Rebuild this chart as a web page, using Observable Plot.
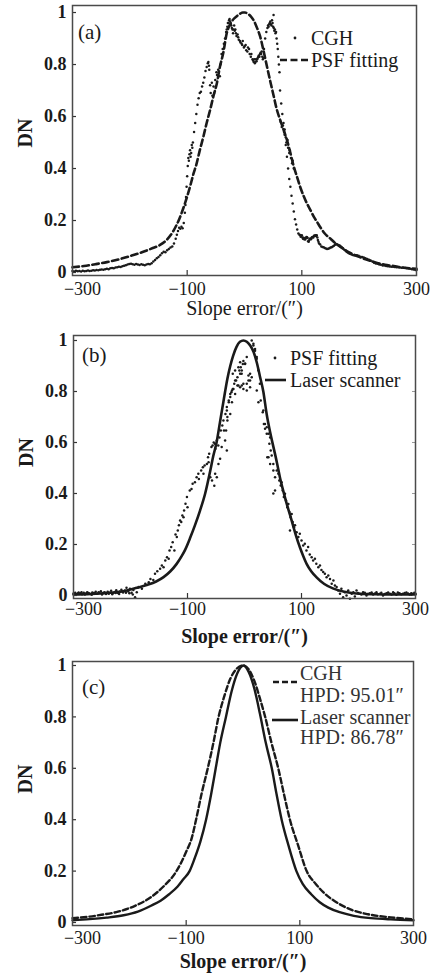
<!DOCTYPE html>
<html><head><meta charset="utf-8">
<script src="https://cdn.jsdelivr.net/npm/d3@7"></script>
<script src="https://cdn.jsdelivr.net/npm/@observablehq/plot@0.6"></script>
<style>
body{margin:0;background:#fff;}
#chart{width:433px;}
#chart svg{display:block;font-family:'Liberation Serif','Times New Roman',serif;}
</style></head><body><div id="chart"></div>
<script>
// ---------- axes ----------
const xTicks = [-300, -100, 100, 300];
const xTickLabels = ["−300", "−100", "100", "300"];
const yTicks = [0, 0.2, 0.4, 0.6, 0.8, 1];
const yTickLabels = ["0", "0.2", "0.4", "0.6", "0.8", "1"];
const xLabel = "Slope error/(″)";
const yLabel = "DN";

// ---------- panel (a) ----------
const psfFitA = [[-300,0.02],[-280,0.025],[-260,0.032],[-240,0.04],[-220,0.05],[-200,0.063],[-180,0.077],[-160,0.094],[-148,0.105],[-136,0.125],[-124,0.16],[-113,0.21],[-104,0.265],[-95,0.33],[-89,0.38],[-84,0.415],[-78,0.47],[-72,0.52],[-66,0.575],[-60,0.625],[-54,0.68],[-48,0.73],[-43,0.79],[-37,0.845],[-31,0.92],[-25,0.955],[-19,0.975],[-14,0.985],[-8,0.995],[-3,1.0],[1,1.0],[6,0.995],[11,0.985],[16,0.97],[22,0.94],[27,0.91],[33,0.855],[39,0.794],[45,0.735],[51,0.678],[56,0.63],[62,0.588],[68,0.55],[74,0.51],[80,0.46],[86,0.407],[92,0.365],[97,0.33],[103,0.295],[109,0.265],[115,0.24],[121,0.214],[127,0.193],[132,0.175],[140,0.15],[150,0.13],[160,0.11],[170,0.095],[180,0.08],[190,0.07],[200,0.06],[215,0.048],[230,0.038],[245,0.03],[260,0.025],[280,0.018],[300,0.014]];

const cghA = [[-300,0.006],[-297,0.004],[-294,0.007],[-291,0.005],[-288,0.006],[-285,0.004],[-282,0.007],[-279,0.005],[-276,0.006],[-273,0.008],[-270,0.006],[-267,0.007],[-264,0.009],[-261,0.008],[-258,0.01],[-255,0.009],[-252,0.011],[-249,0.012],[-246,0.011],[-243,0.013],[-240,0.014],[-237,0.013],[-234,0.016],[-231,0.017],[-228,0.016],[-225,0.019],[-222,0.02],[-219,0.022],[-216,0.021],[-213,0.024],[-210,0.026],[-207,0.028],[-204,0.031],[-201,0.033],[-198,0.034],[-195,0.032],[-192,0.03],[-189,0.033],[-186,0.031],[-183,0.029],[-180,0.032],[-177,0.03],[-174,0.028],[-171,0.031],[-168,0.033],[-165,0.032],[-162,0.036],[-159,0.042],[-156,0.048],[-153,0.055],[-150,0.06],[-147,0.066],[-144,0.074],[-141,0.08],[-138,0.078],[-135,0.086],[-132,0.09],[-129,0.096],[-126,0.1],[-123,0.112],[-120,0.13],[-118,0.145],[-116,0.16],[-114,0.172],[-112,0.168],[-110,0.176],[-108,0.17],[-106,0.19],[-104,0.23],[-103,0.26],[-102,0.29],[-101,0.33],[-100,0.37],[-99,0.41],[-98,0.44],[-97,0.43],[-96,0.455],[-95,0.47],[-94,0.445],[-93,0.46],[-92,0.49],[-91,0.48],
[-90,0.5],[-88,0.54],[-86,0.575],[-84,0.61],[-82,0.645],[-80,0.67],[-78,0.69],[-76,0.695],[-74,0.715],[-72,0.73],[-70,0.75],[-68,0.775],[-66,0.79],[-64,0.805],[-63,0.81],[-62,0.795],[-61.5,0.78],
[-60,0.72],[-59,0.69],[-57,0.73],[-56,0.68],[-54,0.715],[-53,0.69],[-51,0.74],[-49,0.77],[-48,0.76],[-46,0.78],[-45,0.77],[-43,0.755],[-42,0.8],[-40,0.84],[-38,0.86],[-36,0.88],[-34,0.9],[-32,0.925],[-31,0.935],[-30,0.945],[-29,0.96],[-28,0.96],[-27,0.97],[-26,0.975],[-25,0.965],[-24,0.955],[-23,0.95],[-22,0.94],[-21,0.935],[-20,0.92],[-19,0.935],[-18,0.95],[-17,0.93],
[-16,0.935],[-15,0.92],[-14,0.91],[-12,0.915],[-11,0.905],[-10,0.895],[-8,0.89],[-7,0.885],[-5,0.88],[-4,0.875],[-3,0.89],[-1,0.865],[0,0.87],[2,0.875],[3,0.855],[5,0.85],[6,0.865],[8,0.86],[9,0.84],[11,0.83],[12,0.84],[14,0.82],[15,0.815],[16,0.81],[17,0.82],[18,0.805],[19,0.81],[20,0.82],[21,0.813],[22,0.82],[23,0.825],[24,0.83],[25,0.835],[26,0.83],[27,0.84],[28,0.845],[29,0.84],[30,0.85],[31,0.83],[32,0.82],[33,0.825],[34,0.86],[36,0.9],[38,0.925],[40,0.94],[41,0.95],[42,0.945],[43,0.955],[44,0.96],[45,0.965],[46,0.955],[47,0.95],[48,0.97],[49,0.96],[50,0.945],[50.7,0.99],[51,0.94],[52,0.93],[53,0.935],[54,0.92],[55,0.925],[56,0.9],[57,0.88],[58,0.86],[59,0.83],
[60,0.8],[61,0.77],[62,0.7],[64,0.65],[66,0.61],[68,0.575],[70,0.53],[72,0.49],[74,0.445],[76,0.4],[78,0.36],[80,0.33],[82,0.295],[84,0.265],[86,0.235],[88,0.205],[90,0.185],[92,0.165],[94,0.15],[96,0.145],[97,0.143],
[63,0.58],[65,0.56],[67,0.565],[69,0.54],[70,0.55],[72,0.52],[73,0.5],[75,0.51],[76,0.48],[78,0.46],[79,0.47],[81,0.44],[83,0.42],[84,0.43],[86,0.4],
[98,0.138],[99,0.14],[100,0.143],[101,0.135],[102,0.13],[103,0.134],[104,0.128],[105,0.132],[106,0.127],[107,0.133],[108,0.137],[109,0.136],[110,0.133],[111,0.12],[112,0.118],[113,0.125],[114,0.13],[115,0.13],[116,0.128],[117,0.134],[118,0.136],[119,0.137],[120,0.135],[121,0.14],[122,0.142],[123,0.14],[124,0.143],[125,0.14],[126,0.143],[127,0.135],[128,0.125],[129,0.118],[130,0.112],
[132,0.108],[134,0.1],[136,0.098],[138,0.097],[140,0.094],[142,0.092],[144,0.09],[146,0.091],[148,0.093],[150,0.096],[152,0.097],[154,0.1],[156,0.103],[158,0.107],[160,0.11],[162,0.108],[164,0.105],[166,0.104],[168,0.1],[170,0.096],[172,0.092],[174,0.088],[176,0.085],[178,0.08],[180,0.077],[182,0.074],[184,0.072],[186,0.07],[188,0.068],[190,0.066],[193,0.065],[196,0.066],[199,0.064],[202,0.061],[205,0.06],[208,0.058],[211,0.055],[214,0.052],[217,0.049],[220,0.046],[223,0.042],[226,0.038],[229,0.035],[232,0.034],[235,0.031],[238,0.03],[241,0.027],[244,0.027],[247,0.025],[250,0.024],[253,0.023],[256,0.022],[259,0.022],[262,0.021],[265,0.02],[268,0.02],[271,0.019],[274,0.018],[277,0.018],[280,0.017],[283,0.016],[286,0.015],[289,0.014],[292,0.013],[295,0.012],[298,0.01],[300,0.01]];

// ---------- panel (b) ----------
const laserB = [[-300,0.004],[-270,0.006],[-240,0.01],[-210,0.018],[-189,0.03],[-170,0.042],[-155,0.055],[-142,0.072],[-130,0.095],[-119,0.124],[-110,0.155],[-104,0.18],[-95,0.228],[-87,0.275],[-78,0.333],[-69,0.4],[-60,0.49],[-55,0.545],[-49,0.6],[-43,0.68],[-37,0.76],[-34,0.8],[-30,0.85],[-25,0.9],[-20,0.94],[-14,0.975],[-8,0.995],[-2,1.0],[4,0.995],[10,0.98],[16,0.955],[22,0.91],[27,0.86],[33,0.8],[39,0.71],[45,0.64],[51,0.58],[57,0.52],[62,0.465],[68,0.41],[74,0.36],[80,0.315],[86,0.268],[91,0.23],[97,0.19],[103,0.155],[109,0.124],[117,0.095],[126,0.072],[140,0.045],[155,0.028],[175,0.015],[196,0.008],[230,0.005],[260,0.004],[300,0.004]];

const psfFitB = [[-300,0.008],[-297,0.011],[-294,0.006],[-291,0.012],[-288,0.009],[-285,0.005],[-282,0.011],[-279,0.008],[-276,0.013],[-273,0.009],[-270,0.006],[-267,0.012],[-264,0.01],[-261,0.015],[-258,0.007],[-255,0.011],[-252,0.017],[-249,0.009],[-246,0.013],[-243,0.006],[-240,0.015],[-237,0.011],[-234,0.019],[-231,0.01],[-228,0.014],[-225,0.021],[-222,0.01],[-219,0.016],[-216,0.023],[-213,0.012],[-210,0.02],[-207,0.03],[-204,0.016],[-201,0.026],[-198,0.011],[-195,0.022],[-192,-0.007],
[-298,0.004],[-292,0.009],[-286,0.013],[-280,0.004],[-274,0.01],[-268,0.003],[-262,0.009],[-256,0.013],[-250,0.004],[-244,0.011],[-238,0.007],[-232,0.005],[-226,0.01],[-220,0.006],[-214,0.016],[-208,0.011],[-202,0.009],[-196,0.004],
[-189,0.013],[-186,0.033],[-180,0.026],[-174,0.046],[-168,0.052],[-165,0.065],[-160,0.061],[-157,0.085],[-153,0.095],[-148,0.105],[-145,0.118],[-142,0.111],[-139,0.137],[-136,0.15],[-133,0.144],[-131.5,0.176],[-128.6,0.19],[-126,0.209],[-123,0.176],[-121,0.239],[-118.7,0.229],[-117,0.255],[-115,0.275],[-113,0.294],[-111,0.288],[-109,0.314],[-107,0.307],[-106,0.333],[-103.5,0.36],[-101,0.386],[-100,0.346],[-96,0.412],[-93,0.418],[-91,0.438],[-87,0.444],[-84,0.464],[-81,0.477],[-80,0.457],[-76,0.49],[-73,0.503],[-70,0.51],[-72,0.477],[-66,0.516],[-64,0.542],[-62,0.556],[-63,0.523],[-58,0.582],[-56,0.588],[-54,0.6],[-52,0.595],[-51,0.575],[-53,0.43],[-48.6,0.608],[-46,0.588],[-44,0.62],[-41.6,0.647],[-39,0.667],[-37,0.686],[-36,0.647],[-33.4,0.712],[-31,0.739],[-30,0.7],[-27.6,0.758],[-25,0.778],[-23,0.797],[-20.6,0.81],[-18,0.83],[-16.5,0.79],[-14.7,0.843],[-12.4,0.856],[-10.7,0.824],[-9,0.882],[-6.6,0.895],[-5,0.87],[-3,0.908],[-2,0.83],
[-20.6,0.87],[-16.5,0.882],[-10.7,0.895],[-7.7,0.915],[-2,0.92],[1,0.91],[4,0.935],[9.8,0.87],[7,0.863],[-7.7,0.87],[-16.5,0.843],[-12.4,0.824],[-7.7,0.817],[-4.8,0.824],[-2,0.81],[4,0.804],[-22,0.804],[-25,0.79],[-19.4,0.81],[-27.6,0.765],[-22,0.758],[-31,0.725],[-25,0.712],[-30,0.686],[-32.3,0.647],[-34,0.608],[-40,0.582],[-31,0.569],[-45.7,0.516],[-42.8,0.536],[-51.5,0.477],[-48.6,0.464],[-57,0.451],[-60,0.464],
[12.7,1.0],[15.6,0.98],[18.5,0.96],[21.5,0.928],[24.4,0.882],[27,0.83],[9.8,0.843],[12.7,0.856],[21.5,0.804],[24.4,0.758],[33,0.725],[36,0.673],[39,0.66],[42,0.634],[45,0.62],[40,0.542],[45,0.516],[50.6,0.49],[53.6,0.464],
[-4.8,0.882],[1,0.908],[4,0.83],[7,0.843],[9.8,0.817],[15.6,0.987],[18.5,0.967],[21.5,0.935],[28.5,0.765],[32,0.719],[34,0.673],[36,0.654],[39,0.634],[43.6,0.595],[46,0.569],[47.7,0.549],[42,0.542],[50.6,0.516],[50.6,0.4],[53.6,0.412],[56.5,0.49],[59.4,0.477],[61,0.451],[63.5,0.431],[65,0.444],[67,0.412],[69,0.386],[71,0.399],[72.8,0.373],[75,0.346],[77,0.359],[78.7,0.327],[81,0.307],[82.8,0.32],[84.5,0.288],[86.9,0.268],[79.8,0.255],[88.6,0.275],[91.5,0.248],[94.5,0.229],[97,0.242],[100,0.216],[103,0.196],[105.8,0.203],[108.7,0.176],[111.6,0.19],[114.5,0.161],[117.8,0.15],[120.4,0.137],[123.6,0.144],[126,0.124],[129.5,0.111],[132.4,0.118],[135,0.1],[138,0.092],[141,0.085],[144,0.072],[147,0.078],[150,0.065],[153,0.046],[156,0.059],[158.6,0.039],[161.6,0.033],[164.5,0.02],[167.5,0.007],[170,0.026],[173,-0.007],[176,0.013],[179,0.0],[182,0.02],[185,-0.013],[188,0.007],[191,0.013],[193.6,-0.004],[196.5,0.02],[202,0.007],[208,0.013],[214,0.0],[220,0.009],[225.7,0.004],[231.5,0.013],[237.4,0.007],[243,0.0],[249,0.009],[255,0.007],[260.7,0.013],[266.5,0.003],[272,0.009],[278,0.007],[284,0.012],[289.7,0.004],[292.5,0.009],[295.5,0.007],
[199,0.01],[205,0.004],[211,0.011],[217,0.006],[223,0.012],[229,0.008],[234,0.005],[240,0.011],[246,0.006],[252,0.012],[258,0.004],[263,0.009],[269,0.012],[275,0.005],[281,0.01],[287,0.008],[293,0.004],[298,0.011],[300,0.007]];

// ---------- panel (c) ----------
const cghC = [[-300,0.017],[-270,0.023],[-249,0.03],[-220,0.042],[-190,0.065],[-161,0.1],[-140,0.14],[-117,0.2],[-100,0.275],[-90,0.33],[-82.6,0.4],[-73,0.5],[-62,0.6],[-52,0.7],[-43,0.8],[-33,0.88],[-22,0.95],[-10,0.99],[0,1.0],[10,0.985],[20,0.94],[30,0.87],[39,0.8],[50,0.7],[62,0.6],[72,0.5],[82.6,0.4],[97,0.3],[112,0.2],[128,0.15],[145,0.11],[165,0.078],[190,0.05],[220,0.032],[260,0.02],[300,0.012]];
const laserC = [[-300,0.009],[-270,0.013],[-240,0.019],[-210,0.028],[-185,0.042],[-161,0.066],[-145,0.085],[-130,0.11],[-115,0.14],[-105,0.168],[-94,0.2],[-85,0.25],[-75,0.315],[-65,0.4],[-56,0.5],[-48,0.6],[-40,0.7],[-30,0.8],[-20,0.9],[-10,0.97],[1,1.0],[10,0.975],[20,0.91],[30,0.81],[40,0.7],[50.7,0.6],[59,0.5],[68,0.4],[80,0.3],[94,0.2],[105,0.15],[120,0.11],[135,0.079],[150,0.058],[170,0.04],[195,0.026],[225,0.017],[260,0.012],[300,0.009]];

// ---------- legends / labels ----------
const panelTags = ["(a)", "(b)", "(c)"];
const legendA = ["CGH", "PSF fitting"];
const legendB = ["PSF fitting", "Laser scanner"];
const legendC = ["CGH", "HPD: 95.01″", "Laser scanner", "HPD: 86.78″"];

const FONT = "Liberation Serif";
const INK = "#1a1a1a";
const W = 433;

function panel(cfg) {
  const {height, mt, mb, ml, mr, yDomain, marks, tickOff, titleOff, titleBold, dnDy, rightTicks} = cfg;
  const fw = W - ml - mr, fh = height - mt - mb;
  const tickMarks = [
    Plot.tickY(yTicks, {y: d => d, insetRight: fw - 4, stroke: "#333", strokeWidth: 1.2})
  ];
  if (rightTicks) tickMarks.push(Plot.tickY(yTicks.slice(1, 5), {y: d => d, insetLeft: fw - 3, stroke: "#999", strokeWidth: 1}));
  tickMarks.push(Plot.tickX(xTicks.slice(1, 3), {x: d => d, insetTop: fh - 5, stroke: "#333", strokeWidth: 1.2}));
  const svg = Plot.plot({
    width: W, height, marginTop: mt, marginBottom: mb, marginLeft: ml, marginRight: mr,
    x: {domain: [-300, 300], axis: null},
    y: {domain: yDomain, axis: null},
    style: {background: "#fff", color: INK, overflow: "visible"},
    marks: [
      ...marks,
      ...tickMarks,
      Plot.frame({stroke: "#4a4a4a", strokeWidth: 1.5}),
      Plot.text(yTicks, {y: d => d, frameAnchor: "left", dx: -6, textAnchor: "end", fontFamily: FONT,
        text: (d, i) => yTickLabels[i], fontSize: 18, fontWeight: "bold", fill: INK}),
      Plot.text(xTicks.slice(1), {x: d => d, frameAnchor: "bottom", dy: tickOff, fontFamily: FONT,
        text: (d, i) => xTickLabels[i + 1], fontSize: 18, fill: INK}),
      Plot.text(xTicks.slice(0, 1), {x: d => d, frameAnchor: "bottom", dy: tickOff, dx: 10, fontFamily: FONT,
        text: (d, i) => xTickLabels[i], fontSize: 18, fill: INK}),
      Plot.text([xLabel], {frameAnchor: "bottom", dy: titleOff, fontSize: 20, fontFamily: FONT,
        fontWeight: titleBold ? "bold" : "normal", fill: INK}),
      Plot.text([yLabel], {frameAnchor: "left", dx: -47, dy: dnDy, rotate: -90, fontFamily: FONT,
        fontSize: 20, fontWeight: "bold", fill: INK})
    ]
  });
  svg.style.fontFamily = FONT;
  return svg;
}

function txt(svg, x, y, s, size = 20, color = INK) {
  d3.select(svg).append("text").attr("x", x).attr("y", y).attr("dy", "0.35em")
    .attr("text-anchor", "start")
    .attr("font-family", FONT).attr("font-size", size).attr("fill", color).text(s);
}
function seg(svg, x1, x2, y, dash) {
  const l = d3.select(svg).append("line").attr("x1", x1).attr("x2", x2).attr("y1", y).attr("y2", y)
    .attr("stroke", INK).attr("stroke-width", 2.6);
  if (dash) l.attr("stroke-dasharray", dash);
}

const chart = document.getElementById("chart");

// (a)
const svgA = panel({
  height: 325, mt: 5, mb: 50, ml: 72, mr: 17, yDomain: [-0.0115, 1.027],
  tickOff: 19, titleOff: 39, titleBold: false, dnDy: 7,
  marks: [
    Plot.line(psfFitA, {x: d => d[0], y: d => d[1], stroke: INK, strokeWidth: 2.6, strokeDasharray: "6.5,3.5", curve: "monotone-x"}),
    Plot.dot(cghA, {x: d => d[0], y: d => d[1], r: 1.25, fill: INK, stroke: "none"})
  ]
});
chart.appendChild(svgA);
txt(svgA, 78, 32, panelTags[0], 21);
d3.select(svgA).append("circle").attr("cx", 295).attr("cy", 38).attr("r", 1.4).attr("fill", INK);
txt(svgA, 311, 38, legendA[0]);
seg(svgA, 280, 310, 60, "7,3.5");
txt(svgA, 311, 60, legendA[1]);

// (b)
const svgB = panel({
  height: 327, mt: 10, mb: 54, ml: 73, mr: 18, yDomain: [-0.0118, 1.0196],
  tickOff: 16, titleOff: 44, titleBold: true, dnDy: 0, rightTicks: true,
  marks: [
    Plot.line(laserB, {x: d => d[0], y: d => d[1], stroke: INK, strokeWidth: 2.6, curve: "monotone-x"}),
    Plot.dot(psfFitB, {x: d => d[0], y: d => d[1], r: 1.25, fill: INK, stroke: "none"})
  ]
});
chart.appendChild(svgB);
txt(svgB, 82, 30, panelTags[1], 21);
d3.select(svgB).append("circle").attr("cx", 275).attr("cy", 33).attr("r", 1.4).attr("fill", INK);
txt(svgB, 290, 33, legendB[0]);
seg(svgB, 265, 286, 55, null);
txt(svgB, 290, 55, legendB[1]);

// (c)
const svgC = panel({
  height: 327, mt: 9, mb: 54, ml: 72, mr: 20, yDomain: [-0.0117, 1.0156],
  tickOff: 18, titleOff: 42, titleBold: true, dnDy: 0,
  marks: [
    Plot.line(cghC, {x: d => d[0], y: d => d[1], stroke: INK, strokeWidth: 2.4, strokeDasharray: "5.5,3", curve: "monotone-x"}),
    Plot.line(laserC, {x: d => d[0], y: d => d[1], stroke: INK, strokeWidth: 2.4, curve: "monotone-x"})
  ]
});
chart.appendChild(svgC);
txt(svgC, 82, 35, panelTags[2], 21);
seg(svgC, 273, 298, 30, "6,3");
txt(svgC, 300, 21, legendC[0], 20, "#333");
txt(svgC, 300, 43, legendC[1], 20, "#333");
seg(svgC, 272, 298, 68, null);
txt(svgC, 300, 65, legendC[2], 20, "#333");
txt(svgC, 300, 85, legendC[3], 20, "#333");
</script>
</body></html>
